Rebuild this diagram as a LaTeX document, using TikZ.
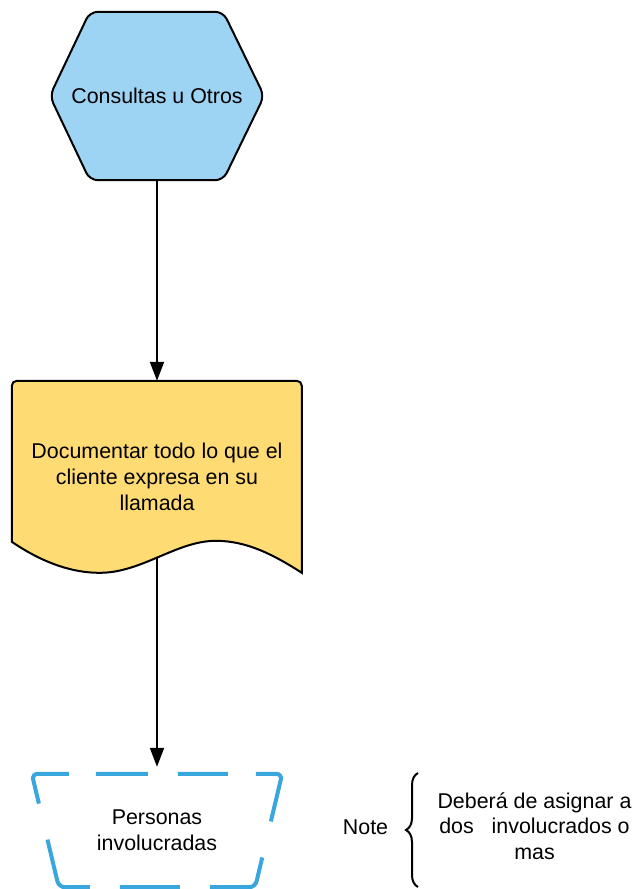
\documentclass[tikz,border=0pt]{standalone}
\usepackage{fontspec}
\setmainfont{Liberation Sans}
\usetikzlibrary{arrows.meta,calc,backgrounds,decorations.pathreplacing}
\definecolor{hexblue}{RGB}{157,211,243}
\definecolor{docyellow}{RGB}{255,219,116}
\definecolor{dashblue}{RGB}{58,166,222}
\tikzset{
  shapebox/.style={minimum width=#1,inner sep=0pt,align=center,text=black},
  outline/.style={draw=black,line width=2pt,fill=#1},
  manual/.style={draw=dashblue,line width=4pt,rounded corners=6pt,
    dash pattern=on 71pt off 27pt on 52pt off 30pt on 50pt off 28pt on 72pt off 37pt
      on 74pt off 30pt on 60pt off 30pt on 78pt off 37pt,dash phase=71pt},
  arr/.style={-{Triangle[length=19pt,width=14pt]},line width=2pt,draw=black},
  notebrace/.style={decorate,decoration={brace,amplitude=12pt},line width=2pt},
}
\begin{document}
\begin{tikzpicture}[x=1pt,y=-1pt,font=\fontsize{21.4}{25.7}\selectfont]
    \useasboundingbox (0,0) rectangle (639,889);

    \node[shapebox=214pt,minimum height=168pt] (consultas) at (157,96) {Consultas u Otros};
    \node[shapebox=290pt,minimum height=192pt] (documentar) at (157,477)
      {Documentar todo lo que el\\cliente expresa en su\\llamada};
    \node[shapebox=250pt,minimum height=113pt] (personas) at (157,830.5)
      {Personas\\involucradas};

    \node (notelbl) at (365.5,827) {Note};
    \node[align=center] (notetxt) at (534.5,826)
      {Deberá de asignar a\\dos\ \ \ involucrados o\\mas};

    \begin{scope}[on background layer]
      % hexagon
      \draw[outline=hexblue,rounded corners=8pt] (consultas.north)
        -- ($(consultas.north east)+(-41,0)$) -- (consultas.east)
        -- ($(consultas.south east)+(-41,0)$) -- ($(consultas.south west)+(40,0)$)
        -- (consultas.west) -- ($(consultas.north west)+(40,0)$) -- cycle;
      % document with wavy bottom
      \draw[outline=docyellow,shift={(documentar.north west)}] (0,161)
        [rounded corners=5pt] -- (0,0) -- (290,0) -- (290,60) [sharp corners] -- (290,192)
        .. controls (262,174) and (235,160) .. (204,160)
        .. controls (165,160) and (130,192) .. (88,192)
        .. controls (55,192) and (25,178) .. (0,161) -- cycle;
      % manual operation
      \draw[manual] ($(personas.north west)+(31,0)$) -- (personas.north east)
        -- ($(personas.south east)+(-27,0)$) -- ($(personas.south west)+(27,0)$)
        -- (personas.north west) -- cycle;
    \end{scope}

    \coordinate (docwave) at ($(documentar.south)+(0,-16)$);
    \coordinate (bracebot) at (418,887);
    \coordinate (bracetop) at (418,773);

    \draw[arr] (consultas.south) -- (documentar.north);
    \draw[arr,shorten >=7pt] (docwave) -- (personas.north);
    \draw[notebrace] (bracebot) -- (bracetop);
  \end{tikzpicture}
\end{document}
